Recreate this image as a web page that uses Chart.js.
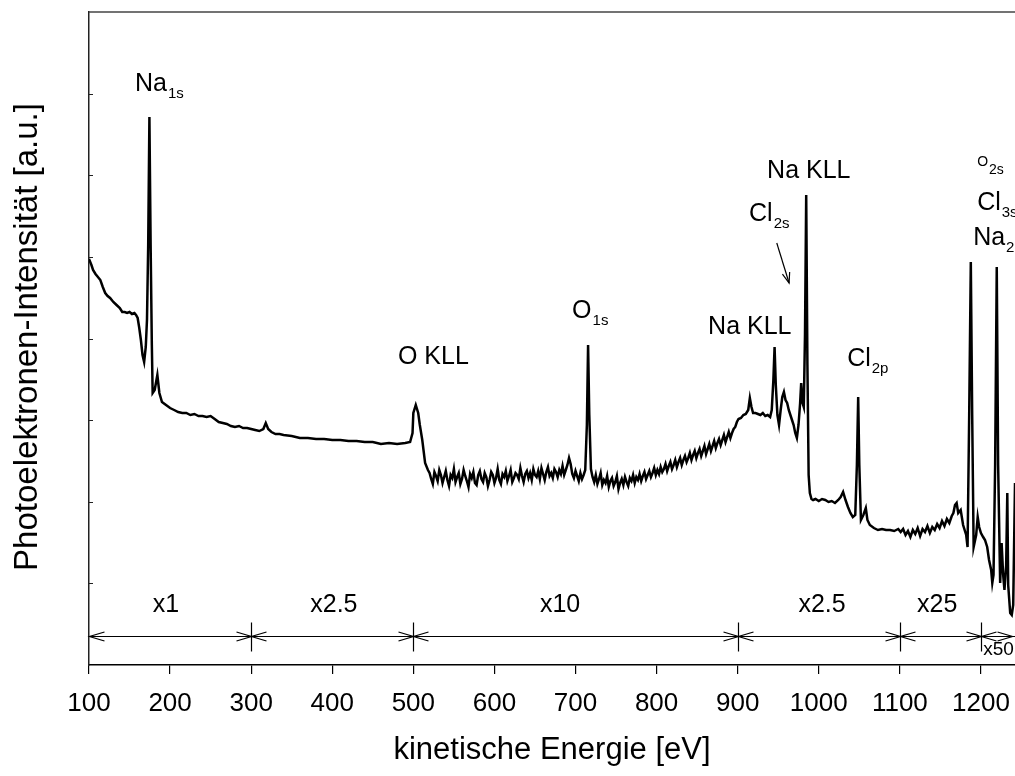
<!DOCTYPE html>
<html><head><meta charset="utf-8">
<script src="https://cdn.jsdelivr.net/npm/chart.js@4.4.0/dist/chart.umd.min.js"></script>
<style>html,body{margin:0;padding:0;background:#fff;}#wrap{width:1015px;height:776px;}</style>
</head><body><div id="wrap"><canvas id="c" width="1015" height="776"></canvas></div>
<script>
// ---- data (kinetic energy in eV, intensity in arbitrary units) ----
const energy = [
100,103,105,108,110,114,117,120,123,126,130,134,138,141,144,147,150,153,156,158,160,162,164,166,168,170,171.5,173,174.5,176,177.5,178.5,181,184.3,186.8,190,195,200,205,210,215,220,225,230,235,240,245,250,255,260,265,270,275,280,285,290,295,300,305,310,315,318,321,325,330,335,340,350,360,370,380,390,400,410,420,430,440,450,460,470,480,490,496,499,500,503,506,508,511,514.5,518,
520,522,524,526,528,530,532,534,536,538,540,542,544,546,548,550,552,554,556,558,560,562,564,566,568,570,572,574,576,578,580,582,584,586,588,590,592,594,596,598,600,602,604,606,608,610,612,614,616,618,620,622,624,626,628,630,632,634,636,638,640,642,644,646,648,650,652,654,656,658,660,662,664,666,668,670,672,674,676,678,680,682,684,686,688,690,692,694,696,698,700,702,704,706,708,710,712,714,715.5,717,719,
721,723,725,727,729,731,733,735,737,739,741,743,745,747,749,751,753,755,757,759,761,763,765,767,769,771,773,775,777,779,781,783,785,787,789,791,793,795,797,799,801,803,805,807,809,811,813,815,817,819,821,823,825,827,829,831,833,835,837,839,841,843,845,847,849,851,853,855,857,859,861,863,865,867,869,871,873,875,877,879,881,883,885,887,889,891,893,895,897,899,
901,904,907,910,913,915,917,919,922,925,928,931,934,937,940,942,944,945.5,947,949,951,953,955,957,959,961,963,965,967,969,971,973,975,977,978.3,980,981.5,983,984.5,986,987.5,989,991,993,996,1000,1004,1008,1012,1016,1020,1024,1027,1030,1033,1036,1039,1042,1045,1047,1048.6,1050,1052,1055,1058,1060,1063,1068,1073,1078,1083,1088,1093,1098,
1101,1104,1107,1110,1113,1116,1119,1122,1125,1128,1131,1134,1137,1140,1143,1146,1149,1152,1155,1158,1161,1164,1166,1168,1170,1172,1175,1178,1181.8,1183.5,1185.5,1187.5,1189.2,1191,1194.1,1196,1197.8,1200,1202.7,1205,1207.7,1210,1212.6,1214,1215.5,1217.5,1219.5,1221.2,1223.7,1225.5,1227.4,1229,1231.1,1232.5,1233.6,1236.1,1238,1239.8,1242
];
const intensity = [
406,400,395,391,389,385,378,372,369,367,363,360,357,353,353,352,353,351,352,350,347,337,325,310,303,318,345,420,548,420,320,272,275,290,272,263,260,257,255,253,252,252,250,251,249,249,248,249,246,243,242,241,239,238,239,237,237,236,235,234,236,242,236,233,231,231,230,229,227,227,226,226,225,225,224,224,223,223,221,222,221,222,223,232,252,260,252,240,225,202,195,
192,186,181,193,189,184,195,190,182,188,194,185,179,190,187,196,183,188,192,181,186,195,189,184,178,191,187,193,182,180,190,194,186,183,192,188,179,185,193,190,182,187,196,185,181,191,188,194,184,189,195,183,187,192,190,186,197,189,183,191,194,187,192,185,196,190,188,194,186,197,191,185,193,198,189,192,187,196,193,188,195,191,199,190,195,200,207,201,191,187,194,189,184,192,186,190,195,240,320,250,196,
188,183,190,181,186,192,180,185,182,189,178,184,187,179,183,189,176,182,186,180,188,183,179,187,184,190,182,188,185,191,184,189,193,186,190,194,188,192,197,190,195,191,198,193,196,201,194,199,203,196,200,205,198,203,207,200,205,209,203,207,212,205,210,214,207,212,216,209,214,219,211,216,221,214,219,224,217,222,226,220,225,230,223,228,233,227,232,236,238,243,
246,247,250,251,255,267,258,252,252,251,250,252,249,250,248,255,285,318,280,250,240,255,268,273,265,262,255,250,245,240,232,227,240,262,282,262,258,330,470,300,190,172,166,165,166,164,166,165,163,164,162,165,168,173,165,158,152,148,150,200,268,200,145,150,157,145,140,137,135,136,135,135,134,136,
133,136,130,134,128,135,131,137,129,136,133,139,132,138,135,141,137,144,139,146,142,149,152,160,162,152,155,140,130,118,250,403,250,118,130,148,138,132,128,125,118,105,95,82,90,200,398,200,82,122,90,75,100,172,80,52,50,60,182,175
];
const xTickValues = [100,200,300,400,500,600,700,800,900,1000,1100,1200];
const X_MIN = 100, X_MAX = 1242, Y_MIN = 0, Y_MAX = 653, Y_STEP = 81.625;

// peak annotations: [main text, subscript, energy (left edge), intensity (middle)]
const peakLabels = [
  ['Na','1s',156.7,581],
  ['O KLL','',481,308],
  ['O','1s',695.8,354],
  ['Na KLL','',863.5,338],
  ['Cl','2p',1035,306],
  ['Na KLL','',936.3,494],
  ['Cl','2s',914,451],
  ['O','2s',1195.3,503],
  ['Cl','3s',1195.3,462],
  ['Na','2p',1190.4,427]
];
// magnification ranges
const scaleBounds = [100,300,500,900,1100,1200,1242];
const scaleTexts = ['x1','x2.5','x10','x2.5','x25','x50'];
const scaleTextPos = [195,402,681,1004,1146,1202.7];

const FONT = '"Liberation Sans", Arial, sans-serif';

const deco = {
  id:'deco',
  afterDraw(chart){
    const ctx = chart.ctx, xs = chart.scales.x, ys = chart.scales.y, a = chart.chartArea;
    ctx.save();
    // top frame
    ctx.strokeStyle='#444'; ctx.lineWidth=1.5;
    ctx.beginPath(); ctx.moveTo(a.left, a.top); ctx.lineTo(a.right, a.top); ctx.stroke();
    // inner y ticks
    ctx.strokeStyle='#222'; ctx.lineWidth=1;
    for(let v=Y_STEP; v<Y_MAX-1; v+=Y_STEP){
      const y=Math.round(ys.getPixelForValue(v))+0.5;
      ctx.beginPath(); ctx.moveTo(a.left, y); ctx.lineTo(a.left+4, y); ctx.stroke();
    }
    // magnification bar
    ctx.strokeStyle='#000'; ctx.lineWidth=1.2;
    const by = Math.round(ys.getPixelForValue(29))+0.5;
    const x0 = xs.getPixelForValue(scaleBounds[0]), x1 = xs.getPixelForValue(scaleBounds[scaleBounds.length-1]);
    ctx.beginPath(); ctx.moveTo(x0,by); ctx.lineTo(x1,by); ctx.stroke();
    scaleBounds.forEach((b,i)=>{
      const px = Math.round(xs.getPixelForValue(b))+0.5;
      if(i>0 && i<scaleBounds.length-1){
        ctx.beginPath(); ctx.moveTo(px, by-14); ctx.lineTo(px, by+15); ctx.stroke();
      }
      if(i<scaleBounds.length-1){ // head pointing left
        ctx.beginPath(); ctx.moveTo(px+15,by-4.5); ctx.lineTo(px,by); ctx.lineTo(px+15,by+4.5); ctx.stroke();
      }
      if(i>0){ // head pointing right
        const tx = i===scaleBounds.length-1 ? px-3 : px;
        ctx.beginPath(); ctx.moveTo(tx-15,by-4.5); ctx.lineTo(tx,by); ctx.lineTo(tx-15,by+4.5); ctx.stroke();
      }
    });
    ctx.fillStyle='#000'; ctx.textBaseline='middle';
    scaleTexts.forEach((t,i)=>{
      if(i===scaleTexts.length-1){
        ctx.font='19px '+FONT; ctx.textAlign='left';
        ctx.fillText(t, xs.getPixelForValue(scaleTextPos[i]), ys.getPixelForValue(15));
      } else {
        ctx.font='25px '+FONT; ctx.textAlign='center';
        ctx.fillText(t, xs.getPixelForValue(scaleTextPos[i]), ys.getPixelForValue(60));
      }
    });
    // peak labels
    ctx.textAlign='left';
    peakLabels.forEach(([m,s,e,v])=>{
      const small = (m==='O' && s==='2s');
      const size = small?14:25, subSize = small?14:15;
      const px = xs.getPixelForValue(e), py = ys.getPixelForValue(v);
      ctx.font = size+'px '+FONT; ctx.fillText(m, px, py);
      if(s){
        const w = ctx.measureText(m).width;
        ctx.font = subSize+'px '+FONT;
        ctx.fillText(s, px+w+1, py + (small?8:10));
      }
    });
    // arrow for Cl2s
    const ax1 = xs.getPixelForValue(948.2), ay1 = ys.getPixelForValue(422);
    const ax2 = xs.getPixelForValue(963.4), ay2 = ys.getPixelForValue(382);
    ctx.lineWidth=1.2;
    ctx.beginPath(); ctx.moveTo(ax1,ay1); ctx.lineTo(ax2,ay2); ctx.stroke();
    const ang = Math.atan2(ay2-ay1, ax2-ax1);
    ctx.beginPath();
    ctx.moveTo(ax2-11*Math.cos(ang-0.35), ay2-11*Math.sin(ang-0.35));
    ctx.lineTo(ax2,ay2);
    ctx.lineTo(ax2-11*Math.cos(ang+0.35), ay2-11*Math.sin(ang+0.35));
    ctx.stroke();
    // axis titles
    ctx.textAlign='center'; ctx.textBaseline='middle';
    ctx.font='31px '+FONT;
    ctx.fillText('kinetische Energie [eV]', (a.left+a.right)/2, 750);
    ctx.save(); ctx.translate(28, 337); ctx.rotate(-Math.PI/2);
    ctx.font='33px '+FONT;
    ctx.fillText('Photoelektronen-Intensität [a.u.]', 0, 0);
    ctx.restore();
    ctx.restore();
  }
};

const points = energy.map((e,i)=>({x:e, y:intensity[i]}));

new Chart(document.getElementById('c'), {
  type:'line',
  data:{datasets:[{data:points, borderColor:'#000', borderWidth:2.5, pointRadius:0, pointHoverRadius:0, pointHitRadius:0, tension:0, fill:false}]},
  options:{
    responsive:false, animation:false, devicePixelRatio:1,
    layout:{autoPadding:false, padding:{top:12,left:0,right:0,bottom:0}},
    plugins:{legend:{display:false}, tooltip:{enabled:false}},
    scales:{
      x:{type:'linear', min:X_MIN, max:X_MAX,
        afterBuildTicks(s){ s.ticks = xTickValues.map(v=>({value:v})); },
        afterFit(s){ s.height = 111; s.paddingLeft = 0; s.paddingRight = 0; },
        grid:{display:true, drawOnChartArea:false, drawTicks:true, tickLength:9, color:'#000', lineWidth:1.2},
        border:{display:true, color:'#000', width:1.5},
        ticks:{color:'#000', font:{family:FONT, size:26}, padding:14, maxRotation:0, autoSkip:false,
          callback:(v)=>String(v)}
      },
      y:{type:'linear', min:Y_MIN, max:Y_MAX,
        afterFit(s){ s.width = 89; s.paddingTop = 0; s.paddingBottom = 0; },
        grid:{display:false, drawTicks:false},
        border:{display:true, color:'#222', width:1.5},
        ticks:{display:false}
      }
    }
  },
  plugins:[deco]
});
</script></body></html>
